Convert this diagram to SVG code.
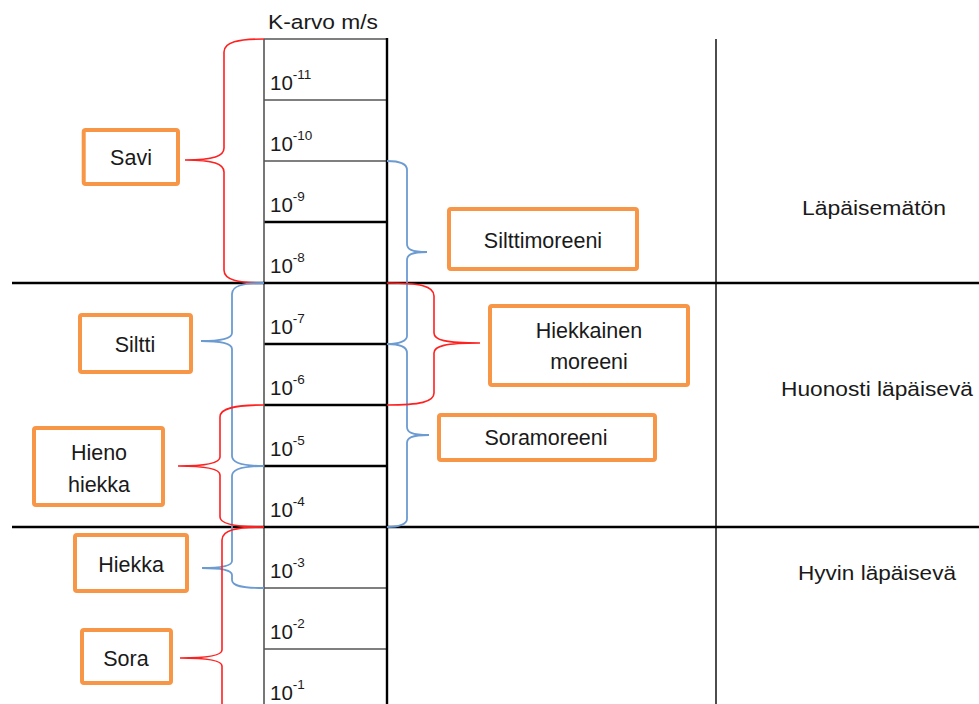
<svg xmlns="http://www.w3.org/2000/svg" width="979" height="704" viewBox="0 0 979 704">
  <style>
    .box { fill: #ffffff; stroke: #F79646; stroke-width: 4; }
    .lbl { font-family: "Liberation Sans", Arial, sans-serif; font-size: 21.5px; fill: #1a1a1a; text-anchor: middle; }
    .zone { font-family: "Liberation Sans", Arial, sans-serif; font-size: 20.5px; fill: #1a1a1a; text-anchor: middle; }
    .num { font-family: "Liberation Sans", Arial, sans-serif; font-size: 20.5px; fill: #1a1a1a; }
    .sup { font-size: 13.5px; }
    .grid-thin { stroke: #555555; stroke-width: 1.6; fill: none; }
    .grid-bold { stroke: #000000; stroke-width: 2.4; fill: none; }
    .red { stroke: #FF2020; stroke-width: 1.6; fill: none; }
    .blue { stroke: #6C9BD2; stroke-width: 1.8; fill: none; }
  </style>

  <rect width="979" height="704" fill="#ffffff"/>

  <!-- permeability scale table -->
  <g id="scale">
    <text class="num" x="268" y="29" font-size="20.5" textLength="110" lengthAdjust="spacingAndGlyphs">K-arvo m/s</text>
    <line class="grid-thin" x1="264" y1="39" x2="387" y2="39"/>
    <line class="grid-thin" x1="264" y1="100" x2="387" y2="100"/>
    <line class="grid-thin" x1="264" y1="161" x2="387" y2="161"/>
    <line class="grid-bold" x1="264" y1="222" x2="387" y2="222"/>
    <line class="grid-bold" x1="264" y1="344" x2="387" y2="344"/>
    <line class="grid-bold" x1="264" y1="405" x2="387" y2="405"/>
    <line class="grid-bold" x1="264" y1="466" x2="387" y2="466"/>
    <line class="grid-thin" x1="264" y1="588" x2="387" y2="588"/>
    <line class="grid-thin" x1="264" y1="649" x2="387" y2="649"/>
    <line class="grid-thin" x1="264" y1="39" x2="264" y2="704"/>
    <line class="grid-bold" x1="387" y1="38" x2="387" y2="704"/>

    <text class="num" x="270" y="90">10<tspan class="sup" dy="-11">-11</tspan></text>
    <text class="num" x="270" y="151">10<tspan class="sup" dy="-11">-10</tspan></text>
    <text class="num" x="270" y="212">10<tspan class="sup" dy="-11">-9</tspan></text>
    <text class="num" x="270" y="273">10<tspan class="sup" dy="-11">-8</tspan></text>
    <text class="num" x="270" y="334">10<tspan class="sup" dy="-11">-7</tspan></text>
    <text class="num" x="270" y="395">10<tspan class="sup" dy="-11">-6</tspan></text>
    <text class="num" x="270" y="456">10<tspan class="sup" dy="-11">-5</tspan></text>
    <text class="num" x="270" y="517">10<tspan class="sup" dy="-11">-4</tspan></text>
    <text class="num" x="270" y="578">10<tspan class="sup" dy="-11">-3</tspan></text>
    <text class="num" x="270" y="639">10<tspan class="sup" dy="-11">-2</tspan></text>
    <text class="num" x="270" y="700">10<tspan class="sup" dy="-11">-1</tspan></text>
  </g>

  <!-- zone dividers and permeability classes -->
  <g id="zones">
    <line class="grid-bold" x1="12" y1="283" x2="979" y2="283"/>
    <line class="grid-bold" x1="12" y1="527" x2="979" y2="527"/>
    <line stroke="#000" stroke-width="1.4" x1="716" y1="39" x2="716" y2="704"/>
    <text class="zone" x="874" y="215" textLength="144" lengthAdjust="spacingAndGlyphs">Läpäisemätön</text>
    <text class="zone" x="877" y="396" textLength="192" lengthAdjust="spacingAndGlyphs">Huonosti läpäisevä</text>
    <text class="zone" x="877" y="580" textLength="158" lengthAdjust="spacingAndGlyphs">Hyvin läpäisevä</text>
  </g>

  <!-- braces linking soil types to their ranges -->
  <g id="connectors">
    <path class="red" d="M264,39 C238,39 224,42 224,52 L224,148 C224,156 214,160 185,160 C214,160 224,164 224,172 L224,270 C224,280 238,283 264,283"/>
    <path class="blue" d="M387,161 C399,161 407,163 407,170 L407,244 C407,249 411,252 427,252 C411,252 407,255 407,260 L407,336 C407,341 399,344 387,344"/>
    <path class="blue" d="M387,344 C399,344 407,346 407,353 L407,427 C407,432 411,435 429,435 C411,435 407,438 407,443 L407,519 C407,524 399,527 387,527"/>
    <path class="red" d="M387,283 C420,283 434,286 434,296 L434,333 C434,340 445,343 480,343 C445,343 434,346 434,353 L434,393 C434,402 420,405 387,405"/>
    <path class="blue" d="M264,283 C242,283 232,286 232,294 L232,333 C232,338 222,341 201,341 C222,341 232,344 232,349 L232,456 C232,463 242,466 264,466"/>
    <path class="blue" d="M264,466 C242,466 232,469 232,476 L232,561 C232,566 222,568 202,568 C222,568 232,570 232,575 L232,580 C232,586 242,588 264,588"/>
    <path class="red" d="M264,405 C236,405 220,408 220,417 L220,457 C220,463 205,466 178,466 C205,466 220,469 220,475 L220,517 C220,524 236,527 264,527"/>
    <path class="red" d="M264,527 C236,527 222,530 222,540 L222,650 C222,655 210,658 180,658 C210,658 222,661 222,666 L222,720"/>
  </g>

  <!-- soil type boxes -->
  <g id="savi">
    <rect class="box" x="83.7" y="130" width="94.3" height="54" rx="2"/>
    <text class="lbl" x="131" y="165">Savi</text>
  </g>
  <g id="silttimoreeni">
    <rect class="box" x="449" y="209" width="188" height="60" rx="2"/>
    <text class="lbl" x="543" y="248">Silttimoreeni</text>
  </g>
  <g id="hiekkainen-moreeni">
    <rect class="box" x="490" y="306" width="198" height="79" rx="2"/>
    <text class="lbl" x="589" y="338">Hiekkainen</text>
    <text class="lbl" x="589" y="369">moreeni</text>
  </g>
  <g id="soramoreeni">
    <rect class="box" x="439" y="415" width="216" height="45" rx="2"/>
    <text class="lbl" x="546" y="445">Soramoreeni</text>
  </g>
  <g id="siltti">
    <rect class="box" x="80" y="315" width="111" height="57" rx="2"/>
    <text class="lbl" x="135" y="352">Siltti</text>
  </g>
  <g id="hieno-hiekka">
    <rect class="box" x="34" y="428" width="129" height="77" rx="2"/>
    <text class="lbl" x="99" y="460">Hieno</text>
    <text class="lbl" x="99" y="492">hiekka</text>
  </g>
  <g id="hiekka">
    <rect class="box" x="75" y="535" width="112" height="56" rx="2"/>
    <text class="lbl" x="131" y="572">Hiekka</text>
  </g>
  <g id="sora">
    <rect class="box" x="82" y="630" width="89" height="53" rx="2"/>
    <text class="lbl" x="126" y="666">Sora</text>
  </g>
</svg>
